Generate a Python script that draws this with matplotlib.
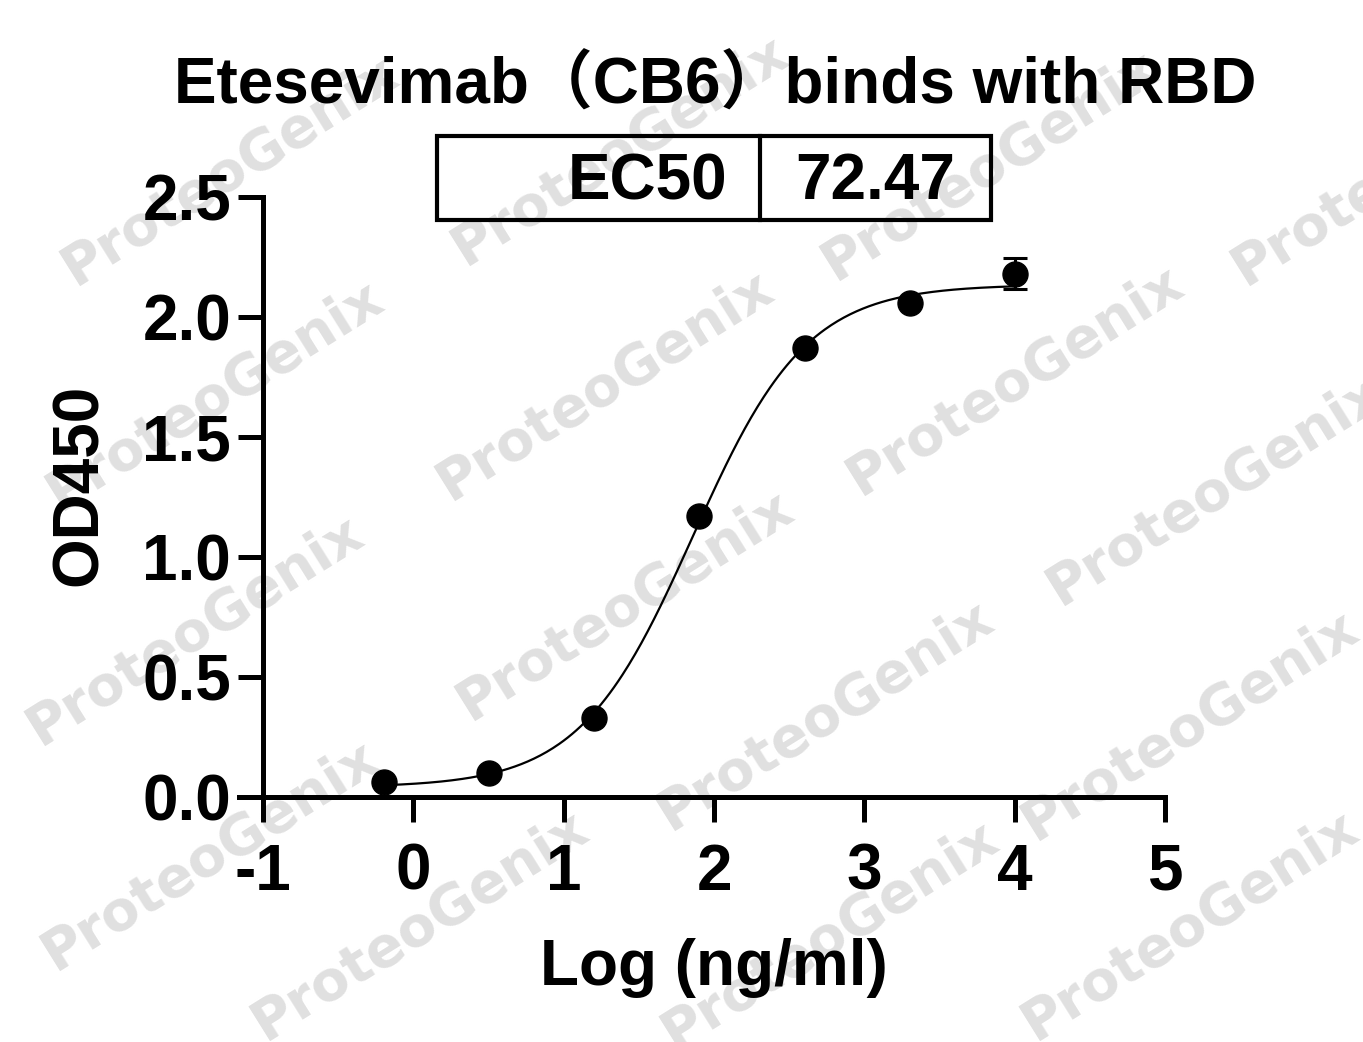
import numpy as np
import matplotlib
matplotlib.use('Agg')
import matplotlib.pyplot as plt
from matplotlib.patches import Rectangle
from matplotlib.lines import Line2D

# data
log_conc = [-0.194, 0.505, 1.204, 1.903, 2.602, 3.301, 4.0]
od450 = [0.062, 0.098, 0.330, 1.170, 1.870, 2.060, 2.180]
od_err = [0.0, 0.0, 0.0, 0.0, 0.0, 0.0, 0.065]

# 4PL fit parameters (EC50 = 72.47 ng/ml)
bottom, top, hill = 0.04, 2.135, 1.15
ec50 = 72.47
x_ticks = [-1, 0, 1, 2, 3, 4, 5]
y_ticks = [0.0, 0.5, 1.0, 1.5, 2.0, 2.5]

plt.rcParams['font.family'] = ['Liberation Sans', 'Noto Sans CJK SC', 'DejaVu Sans']
plt.rcParams['font.weight'] = 'bold'

W, H = 1363, 1042
fig = plt.figure(figsize=(W / 100, H / 100), dpi=100, facecolor='white')

# watermark text
wm_centers = [(230, 170), (620, 150), (990, 165), (1400, 170),
              (215, 395), (605, 385), (1015, 380), (1215, 490),
              (195, 630), (625, 605), (825, 715), (1190, 725),
              (210, 855), (420, 925), (830, 935), (1190, 925)]
for cx, cy in wm_centers:
    fig.text(cx / W, 1 - cy / H, 'ProteoGenix', family='DejaVu Sans', fontweight='bold',
             fontsize=40, color='#e0e0e0', rotation=32, ha='center', va='center',
             rotation_mode='anchor', zorder=-5)

xpad = 24 / 150
ax = fig.add_axes([239 / W, 1 - 797 / H, (1165 - 239) / W, (797 - 197) / H])
ax.set_zorder(1)
ax.patch.set_alpha(0)
ax.set_xlim(-1 - xpad, 5)
ax.set_ylim(0, 2.5)

xs = np.linspace(log_conc[0], log_conc[-1], 300)
ys = bottom + (top - bottom) / (1 + 10 ** ((np.log10(ec50) - xs) * hill))
ax.plot(xs, ys, color='black', lw=1.6, zorder=3)
ax.errorbar(log_conc, od450, yerr=od_err, fmt='o', color='black', ms=18,
            elinewidth=2.2, capsize=8.5, capthick=2.2, zorder=4, clip_on=False)

for s in ['top', 'right']:
    ax.spines[s].set_visible(False)
ax.spines['left'].set_position(('data', -1))
ax.spines['left'].set_linewidth(3.6)
ax.spines['bottom'].set_linewidth(3.6)
ax.spines['left'].set_capstyle('projecting')
ax.spines['bottom'].set_capstyle('projecting')

ax.set_xticks(x_ticks)
ax.set_xticklabels([str(t) for t in x_ticks])
ax.set_yticks(y_ticks)
ax.set_yticklabels([f'{t:.1f}' for t in y_ticks])
ax.tick_params(axis='both', length=18, width=3.6, labelsize=46)
ax.tick_params(axis='x', pad=15)
ax.tick_params(axis='y', pad=5)

fig.text(714 / W, 1 - 985 / H, 'Log (ng/ml)', fontsize=46, ha='center', va='baseline')
fig.text(80 / W, 1 - 485 / H, 'OD450', fontsize=46, ha='center', va='center', rotation=90)

fig.text(715 / W, 1 - 104 / H, 'Etesevimab（CB6）binds with RBD', fontsize=46,
         ha='center', va='baseline')

# EC50 box
fig.patches.append(Rectangle((437 / W, 1 - 220 / H), (991 - 437) / W, (220 - 136) / H,
                             transform=fig.transFigure, fill=False, lw=3, ec='black', zorder=2))
fig.lines.append(Line2D([760 / W, 760 / W], [1 - 220 / H, 1 - 136 / H],
                        transform=fig.transFigure, lw=3, color='black', zorder=2))
fig.text(727 / W, 1 - 199 / H, 'EC50', fontsize=46, ha='right', va='baseline', zorder=2)
fig.text(875 / W, 1 - 199 / H, f'{ec50:.2f}', fontsize=46, ha='center', va='baseline', zorder=2)

fig.savefig('out.png', dpi=100, facecolor='white')
